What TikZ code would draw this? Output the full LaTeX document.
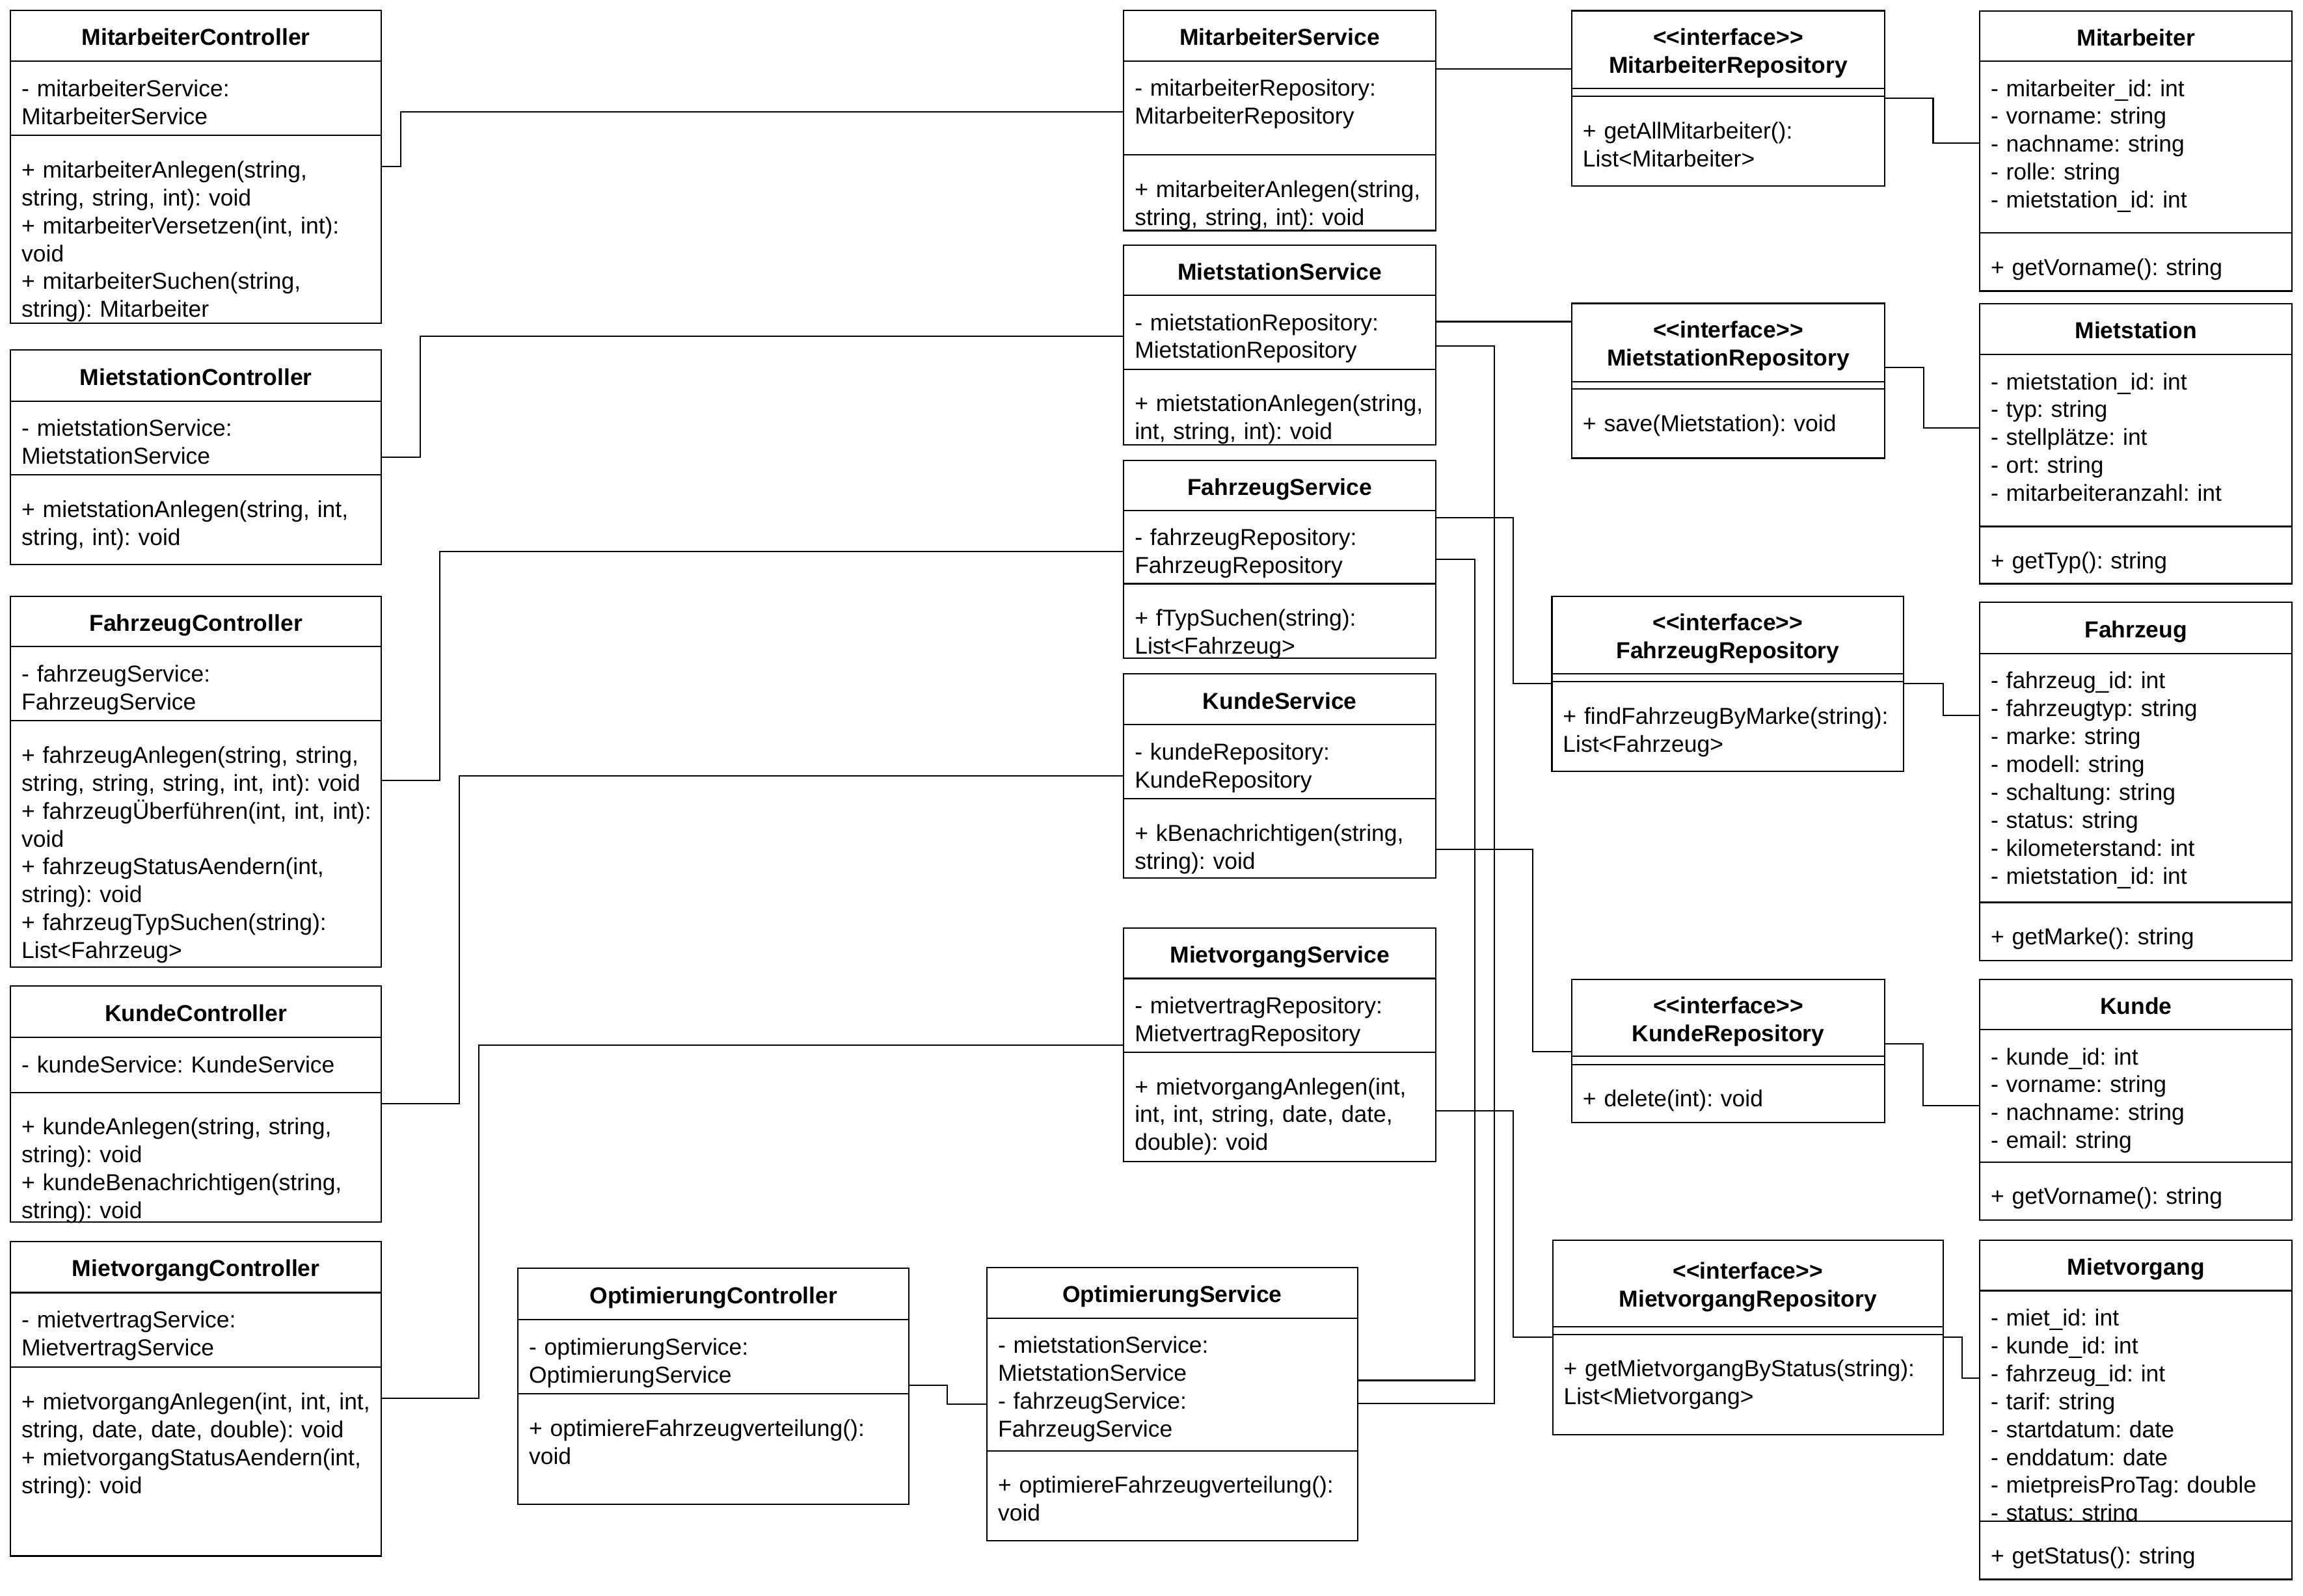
\documentclass[tikz,border=0pt]{standalone}
\usepackage{fontspec}
\setmainfont{Liberation Sans}
\frenchspacing
\newcommand{\pxunit}{0.02258cm}
\newcommand{\stereo}{\mbox{<}\mbox{<}interface\mbox{>}\mbox{>}}
\tikzset{
  clshead/.style={draw, fill=white, line width=0.6pt, anchor=north west, inner sep=0pt, outer sep=0pt,
    align=center, text height=8.5pt, text depth=0.1pt, font=\fontsize{10.1}{12.2}\selectfont\bfseries},
  clsihead/.style={clshead, text height=20.7pt},
  clsrow/.style={draw, fill=white, line width=0.6pt, anchor=north west, inner xsep=0.169cm, inner ysep=0pt,
    outer sep=0pt, align=left, font=\fontsize{10.1}{12.2}\selectfont},
  clslink/.style={draw, line width=0.6pt}
}
% header of a class: name, top left, width, height, style, title
\newcommand{\clshd}[6]{%
  \pgfmathsetlengthmacro{\rowwd}{#3*\pxunit}%
  \pgfmathsetlengthmacro{\rowhh}{#4*\pxunit}%
  \node[#5, minimum width=\rowwd, minimum height=\rowhh] (#1) at #2 {#6};}
% compartment: name, top left, width, height, first baseline, lines
\newcommand{\clsrw}[6]{%
  \pgfmathsetlengthmacro{\rowwd}{#3*\pxunit}%
  \pgfmathsetlengthmacro{\rowtw}{(#3-15)*\pxunit}%
  \pgfmathsetlengthmacro{\rowht}{#5*\pxunit}%
  \pgfmathsetlengthmacro{\rowdp}{(#4-#5)*\pxunit}%
  \node[clsrow, minimum width=\rowwd, text width=\rowtw, text height=\rowht, text depth=\rowdp] (#1) at #2
    {\begin{tabular}[t]{@{}l@{}}#6\end{tabular}};}

\begin{document}
\begin{tikzpicture}[x=0.02258cm, y=-0.02258cm]
\path[use as bounding box, fill=white] (0,0) rectangle (1567.8,1086.8);
%controllers
\clshd{mc}{(7.2,7.1)}{252.4}{34.7}{clshead}{MitarbeiterController}
\clsrw{mca}{(mc.south west)}{252.4}{50.5}{24}{- mitarbeiterService:\\MitarbeiterService}
\clsrw{mcm}{(mca.south west)}{252.4}{127.7}{28.8}{+ mitarbeiterAnlegen(string,\\string, string, int): void\\+ mitarbeiterVersetzen(int, int):\\void\\+ mitarbeiterSuchen(string,\\string): Mitarbeiter}
\clshd{sc}{(7.2,238.4)}{252.4}{34.7}{clshead}{MietstationController}
\clsrw{sca}{(sc.south west)}{252.4}{50.3}{24}{- mietstationService:\\MietstationService}
\clsrw{scm}{(sca.south west)}{252.4}{61.0}{28.8}{+ mietstationAnlegen(string, int,\\string, int): void}
\clshd{fc}{(7.2,406.1)}{252.4}{34.2}{clshead}{FahrzeugController}
\clsrw{fca}{(fc.south west)}{252.4}{50.6}{24}{- fahrzeugService:\\FahrzeugService}
\clsrw{fcm}{(fca.south west)}{252.4}{167.5}{28.8}{+ fahrzeugAnlegen(string, string,\\string, string, string, int, int): void\\+ fahrzeugÜberführen(int, int, int):\\void\\+ fahrzeugStatusAendern(int,\\string): void\\+ fahrzeugTypSuchen(string):\\List<Fahrzeug>}
\clshd{kc}{(7.2,671.4)}{252.4}{35}{clshead}{KundeController}
\clsrw{kca}{(kc.south west)}{252.4}{37.6}{24}{- kundeService: KundeService}
\clsrw{kcm}{(kca.south west)}{252.4}{88}{28.8}{+ kundeAnlegen(string, string,\\string): void\\+ kundeBenachrichtigen(string,\\string): void}
\clshd{vc}{(7.2,845.3)}{252.4}{34.9}{clshead}{MietvorgangController}
\clsrw{vca}{(vc.south west)}{252.4}{50.9}{24}{- mietvertragService:\\MietvertragService}
\clsrw{vcm}{(vca.south west)}{252.4}{128.5}{28.8}{+ mietvorgangAnlegen(int, int, int,\\string, date, date, double): void\\+ mietvorgangStatusAendern(int,\\string): void}
\clshd{oc}{(352.6,863.8)}{266.2}{34.8}{clshead}{OptimierungController}
\clsrw{oca}{(oc.south west)}{266.2}{50.6}{24}{- optimierungService:\\OptimierungService}
\clsrw{ocm}{(oca.south west)}{266.2}{75}{28.8}{+ optimiereFahrzeugverteilung():\\void}
%services
\clshd{ms}{(765,7.1)}{212.4}{34.4}{clshead}{MitarbeiterService}
\clsrw{msa}{(ms.south west)}{212.4}{64}{24}{- mitarbeiterRepository:\\MitarbeiterRepository}
\clsrw{msm}{(msa.south west)}{212.4}{51.5}{28.8}{+ mitarbeiterAnlegen(string,\\string, string, int): void}
\clshd{ss}{(765,167)}{212.4}{34}{clshead}{MietstationService}
\clsrw{ssa}{(ss.south west)}{212.4}{50.5}{24}{- mietstationRepository:\\MietstationRepository}
\clsrw{ssm}{(ssa.south west)}{212.4}{51.5}{28.8}{+ mietstationAnlegen(string,\\int, string, int): void}
\clshd{fs}{(765,313.5)}{212.4}{34}{clshead}{FahrzeugService}
\clsrw{fsa}{(fs.south west)}{212.4}{50}{24}{- fahrzeugRepository:\\FahrzeugRepository}
\clsrw{fsm}{(fsa.south west)}{212.4}{50.5}{28.8}{+ fTypSuchen(string):\\List<Fahrzeug>}
\clshd{ks}{(765,459)}{212.4}{34.5}{clshead}{KundeService}
\clsrw{ksa}{(ks.south west)}{212.4}{50.5}{24}{- kundeRepository:\\KundeRepository}
\clsrw{ksm}{(ksa.south west)}{212.4}{54}{28.8}{+ kBenachrichtigen(string,\\string): void}
\clshd{vs}{(765,632)}{212.4}{34.3}{clshead}{MietvorgangService}
\clsrw{vsa}{(vs.south west)}{212.4}{50.3}{24}{- mietvertragRepository:\\MietvertragRepository}
\clsrw{vsm}{(vsa.south west)}{212.4}{74.5}{28.8}{+ mietvorgangAnlegen(int,\\int, int, string, date, date,\\double): void}
\clshd{os}{(671.9,863.3)}{252.2}{34.3}{clshead}{OptimierungService}
\clsrw{osa}{(os.south west)}{252.2}{90.3}{24}{- mietstationService:\\MietstationService\\- fahrzeugService:\\FahrzeugService}
\clsrw{osm}{(osa.south west)}{252.2}{61.4}{28.8}{+ optimiereFahrzeugverteilung():\\void}
%repositories
\clshd{mr}{(1070,7.3)}{213}{53}{clsihead}{\stereo\\MitarbeiterRepository}
\clsrw{mrx}{(mr.south west)}{213}{5.3}{0}{}
\clsrw{mrm}{(mrx.south west)}{213}{61.2}{28.8}{+ getAllMitarbeiter():\\List<Mitarbeiter>}
\clshd{sr}{(1070,206.6)}{213}{53.3}{clsihead}{\stereo\\MietstationRepository}
\clsrw{srx}{(sr.south west)}{213}{5.1}{0}{}
\clsrw{srm}{(srx.south west)}{213}{47}{28.8}{+ save(Mietstation): void}
\clshd{fr}{(1056.5,406)}{239.5}{52.8}{clsihead}{\stereo\\FahrzeugRepository}
\clsrw{frx}{(fr.south west)}{239.5}{5.5}{0}{}
\clsrw{frm}{(frx.south west)}{239.5}{61}{28.8}{+ findFahrzeugByMarke(string):\\List<Fahrzeug>}
\clshd{kr}{(1070,667)}{213}{52.4}{clsihead}{\stereo\\KundeRepository}
\clsrw{krx}{(kr.south west)}{213}{5.4}{0}{}
\clsrw{krm}{(krx.south west)}{213}{39.8}{28.8}{+ delete(int): void}
\clshd{vr}{(1057,844.4)}{265.8}{59}{clsihead}{\stereo\\MietvorgangRepository}
\clsrw{vrx}{(vr.south west)}{265.8}{5.3}{0}{}
\clsrw{vrm}{(vrx.south west)}{265.8}{68.1}{28.8}{+ getMietvorgangByStatus(string):\\List<Mietvorgang>}
%entities
\clshd{me}{(1347.7,7.5)}{212.7}{34.1}{clshead}{Mitarbeiter}
\clsrw{mea}{(me.south west)}{212.7}{117}{24}{- mitarbeiter\_id: int\\- vorname: string\\- nachname: string\\- rolle: string\\- mietstation\_id: int}
\clsrw{mem}{(mea.south west)}{212.7}{39.6}{28.8}{+ getVorname(): string}
\clshd{se}{(1347.7,206.7)}{212.7}{34.6}{clshead}{Mietstation}
\clsrw{sea}{(se.south west)}{212.7}{117.2}{24}{- mietstation\_id: int\\- typ: string\\- stellplätze: int\\- ort: string\\- mitarbeiteranzahl: int}
\clsrw{sem}{(sea.south west)}{212.7}{39}{28.8}{+ getTyp(): string}
\clshd{fe}{(1347.7,410)}{212.7}{35}{clshead}{Fahrzeug}
\clsrw{fea}{(fe.south west)}{212.7}{169.5}{24}{- fahrzeug\_id: int\\- fahrzeugtyp: string\\- marke: string\\- modell: string\\- schaltung: string\\- status: string\\- kilometerstand: int\\- mietstation\_id: int}
\clsrw{fem}{(fea.south west)}{212.7}{39.5}{28.8}{+ getMarke(): string}
\clshd{ke}{(1347.7,667)}{212.7}{34}{clshead}{Kunde}
\clsrw{kea}{(ke.south west)}{212.7}{90.3}{24}{- kunde\_id: int\\- vorname: string\\- nachname: string\\- email: string}
\clsrw{kem}{(kea.south west)}{212.7}{39.5}{28.8}{+ getVorname(): string}
\clshd{ve}{(1347.7,844.4)}{212.7}{34.5}{clshead}{Mietvorgang}
\clsrw{vea}{(ve.south west)}{212.7}{157}{24}{- miet\_id: int\\- kunde\_id: int\\- fahrzeug\_id: int\\- tarif: string\\- startdatum: date\\- enddatum: date\\- mietpreisProTag: double\\- status: string}
\clsrw{vem}{(vea.south west)}{212.7}{39.6}{28.8}{+ getStatus(): string}
%controller to service
\draw[clslink] (mcm.east |- 0,113.4) -- ++(13.2,0) |- (msa.west |- 0,76);
\draw[clslink] (sca.east |- 0,311.3) -- ++(26.6,0) |- (ssa.west |- 0,229);
\draw[clslink] (fcm.east |- 0,531.5) -- ++(39.8,0) |- (fsa.west |- 0,375.4);
\draw[clslink] (kcm.east |- 0,751.5) -- ++(52.9,0) |- (ksa.west |- 0,528.2);
\draw[clslink] (vcm.east |- 0,952.2) -- ++(66.3,0) |- (vsa.west |- 0,711.7);
\draw[clslink] (oca.east |- 0,943.5) -- ++(26.2,0) |- (osa.west |- 0,956);
%service to repository
\draw[clslink] (msa.east |- 0,47) -- (mr.west |- 0,47);
\draw[clslink] (ssa.east |- 0,219) -- (sr.west |- 0,219);
\draw[clslink] (fsa.east |- 0,352.5) -- ++(52.6,0) |- (frm.west |- 0,465.3);
\draw[clslink] (ksm.east |- 0,578.3) -- ++(66.1,0) |- (kr.west |- 0,716);
\draw[clslink] (vsm.east |- 0,756.4) -- ++(52.6,0) |- (vrm.west |- 0,910.7);
%optimierung
\draw[clslink] (ssa.east |- 0,235.5) -- ++(39.8,0) |- (osa.east |- 0,955.8);
\draw[clslink] (fsa.east |- 0,380.7) -- ++(26.4,0) |- (osa.east |- 0,940);
%repository to entity
\draw[clslink] (mrm.east |- 0,67) -- ++(33,0) |- (mea.west |- 0,97.6);
\draw[clslink] (sr.east |- 0,250.3) -- ++(26.5,0) |- (sea.west |- 0,291.5);
\draw[clslink] (frm.east |- 0,465.3) -- ++(26.7,0) |- (fea.west |- 0,487);
\draw[clslink] (kr.east |- 0,711) -- ++(26.3,0) |- (kea.west |- 0,752.7);
\draw[clslink] (vrm.east |- 0,910.7) -- ++(12.9,0) |- (vea.west |- 0,938.5);
\end{tikzpicture}
\end{document}
